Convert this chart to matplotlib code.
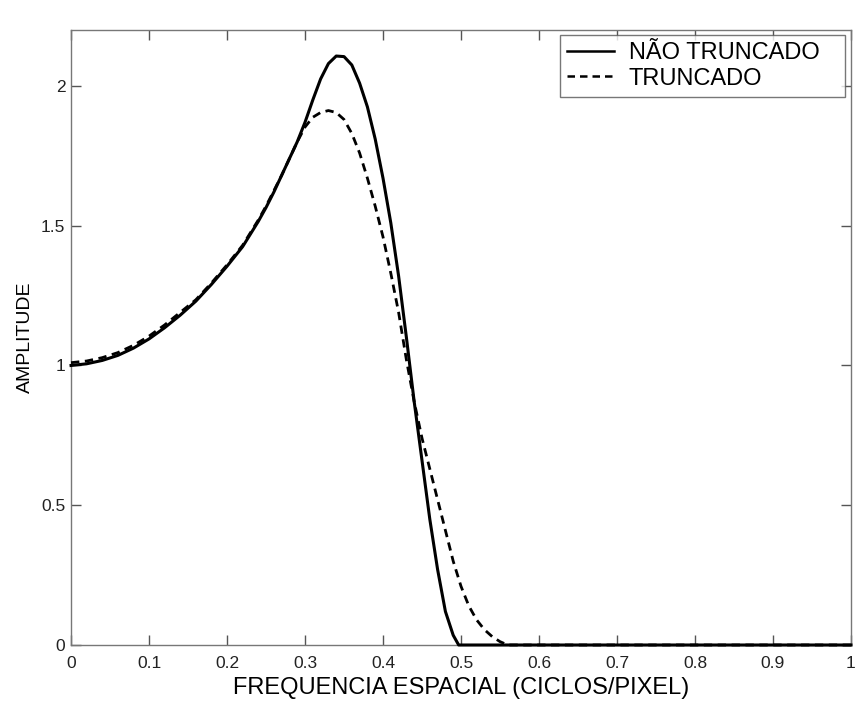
import matplotlib
matplotlib.use("Agg")
import matplotlib.pyplot as plt
from matplotlib.ticker import FuncFormatter

plt.rcParams["font.family"] = ["Liberation Sans", "DejaVu Sans"]

# values
freq_full = [0.0, 0.02, 0.04, 0.06, 0.08, 0.10, 0.12, 0.14, 0.16, 0.18, 0.20, 0.22,
             0.24, 0.25, 0.26, 0.27, 0.28, 0.29, 0.30, 0.31, 0.32, 0.33, 0.34,
             0.35, 0.36, 0.37, 0.38, 0.39, 0.40, 0.41, 0.42, 0.43, 0.44, 0.45,
             0.46, 0.47, 0.48, 0.49, 0.497, 0.6, 0.8, 1.0]
amp_full = [1.00, 1.006, 1.018, 1.036, 1.062, 1.095, 1.135, 1.18, 1.23, 1.29, 1.355, 1.425,
            1.515, 1.565, 1.62, 1.68, 1.74, 1.80, 1.87, 1.95, 2.025, 2.08, 2.107,
            2.105, 2.075, 2.01, 1.925, 1.81, 1.67, 1.51, 1.32, 1.10, 0.87, 0.66,
            0.45, 0.27, 0.12, 0.035, 0.0, 0.0, 0.0, 0.0]

freq_trunc = [0.0, 0.02, 0.04, 0.06, 0.08, 0.10, 0.12, 0.14, 0.16, 0.18, 0.20, 0.22,
              0.24, 0.25, 0.26, 0.27, 0.28, 0.29, 0.30, 0.31, 0.32, 0.33, 0.34,
              0.35, 0.36, 0.37, 0.38, 0.39, 0.40, 0.41, 0.42, 0.43, 0.44, 0.45,
              0.46, 0.47, 0.48, 0.49, 0.50, 0.51, 0.52, 0.53, 0.54, 0.55, 0.56,
              0.7, 1.0]
amp_trunc = [1.01, 1.016, 1.028, 1.046, 1.072, 1.105, 1.145, 1.19, 1.235, 1.295, 1.36, 1.43,
             1.52, 1.57, 1.625, 1.68, 1.74, 1.80, 1.853, 1.888, 1.905, 1.912, 1.905,
             1.88, 1.83, 1.76, 1.67, 1.57, 1.46, 1.33, 1.19, 1.02, 0.87, 0.74,
             0.63, 0.52, 0.41, 0.30, 0.21, 0.14, 0.09, 0.055, 0.03, 0.012, 0.0,
             0.0, 0.0]

x_ticks = [0, 0.1, 0.2, 0.3, 0.4, 0.5, 0.6, 0.7, 0.8, 0.9, 1]
y_ticks = [0, 0.5, 1, 1.5, 2]

fig = plt.figure(figsize=(8.58, 7.02), dpi=100)
ax = fig.add_axes([0.0828, 0.0812, 0.909, 0.876])

ax.plot(freq_full, amp_full, color="black", lw=2.2, label="NÃO TRUNCADO",
        clip_on=False, zorder=3)
ax.plot(freq_trunc, amp_trunc, color="black", lw=2.0, ls=(0, (3, 2)),
        label="TRUNCADO", clip_on=False, zorder=3)

ax.set_xlim(0, 1)
ax.set_ylim(0, 2.2)
ax.set_xticks(x_ticks)
ax.set_yticks(y_ticks)
fmt = FuncFormatter(lambda v, p: f"{v:g}")
ax.xaxis.set_major_formatter(fmt)
ax.yaxis.set_major_formatter(fmt)
ax.tick_params(direction="in", length=7, width=1, color="#555555",
               top=True, right=True, labelsize=12.5, labelcolor="#222222")
ax.tick_params(axis="x", pad=8)
ax.tick_params(axis="y", pad=4)
for s in ax.spines.values():
    s.set_color("#777777")
    s.set_linewidth(1.0)

ax.set_xlabel("FREQUENCIA ESPACIAL (CICLOS/PIXEL)", fontsize=17, labelpad=4)
ax.set_ylabel("AMPLITUDE", fontsize=14, labelpad=5)

leg = ax.legend(loc="upper left", bbox_to_anchor=(0.627, 0.880, 0.365, 0.112),
                mode="expand", borderaxespad=0, fontsize=17, frameon=True,
                fancybox=False, edgecolor="#555555", handlelength=2.0,
                borderpad=0.3, labelspacing=0.15, handletextpad=0.6)
leg.get_frame().set_linewidth(1.0)
for line in leg.get_lines():
    line.set_linewidth(1.8)

fig.savefig("out.png", dpi=100)
